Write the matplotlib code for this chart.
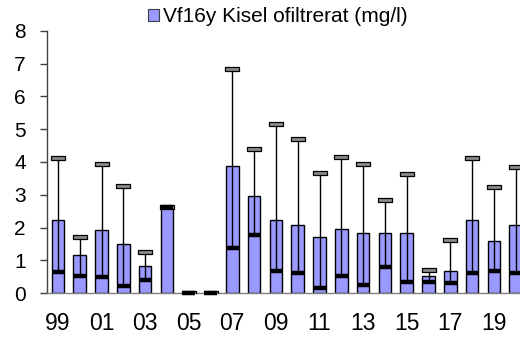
import matplotlib
matplotlib.use("Agg")
import matplotlib.pyplot as plt
from matplotlib.patches import Patch
from matplotlib.path import Path
import numpy as np

# Yearly silica (unfiltered) statistics, mg/l
years = ['99', '00', '01', '02', '03', '04', '05', '06', '07', '08', '09',
         '10', '11', '12', '13', '14', '15', '16', '17', '18', '19', '20']
mean = [2.24, 1.16, 1.94, 1.51, 0.83, 2.66, 0.0, 0.0, 3.87, 2.95, 2.24,
        2.08, 1.70, 1.97, 1.83, 1.83, 1.83, 0.54, 0.68, 2.24, 1.60, 2.08]
median = [0.64, 0.53, 0.50, 0.23, 0.39, 2.62, 0.0, 0.0, 1.38, 1.78, 0.69,
          0.62, 0.16, 0.53, 0.26, 0.80, 0.35, 0.33, 0.31, 0.62, 0.67, 0.62]
maximum = [4.12, 1.72, 3.95, 3.27, 1.26, 2.62, 0.0, 0.0, 6.83, 4.39, 5.15,
           4.69, 3.65, 4.14, 3.93, 2.83, 3.63, 0.71, 1.62, 4.13, 3.23, 3.84]
yticks = [0, 1, 2, 3, 4, 5, 6, 7, 8]
series_name = 'Vf16y Kisel ofiltrerat (mg/l)'

plt.rcParams['font.family'] = ['Liberation Sans', 'DejaVu Sans']

W, H = 520, 339
fig = plt.figure(figsize=(W / 100, H / 100), dpi=100)
ax = fig.add_axes([47 / W, 45.7 / H, 479.6 / W, 262.6 / H])

x = np.arange(len(years))
bw = 0.58

ax.bar(x, mean, width=bw, color='#9999FF', edgecolor='black', linewidth=1.0, zorder=2)

# whiskers from the median up to the maximum
ax.vlines(x, median, maximum, color='black', linewidth=1.0, zorder=3)

# caps at the maximum: flat grey rectangles
cap = Path([(-1, -0.3), (1, -0.3), (1, 0.3), (-1, 0.3), (-1, -0.3)],
           [Path.MOVETO, Path.LINETO, Path.LINETO, Path.LINETO, Path.CLOSEPOLY])
ax.plot(x, maximum, linestyle='none', marker=cap, markersize=9.6,
        markerfacecolor='#8c8c8c', markeredgecolor='black', markeredgewidth=0.9,
        zorder=4)

# medians: thick black bars across the column
ax.hlines(median, x - bw / 2, x + bw / 2, color='black', linewidth=3.2,
          capstyle='butt', zorder=5, clip_on=False)

ax.set_xlim(-0.5, len(years) - 0.5)
ax.set_ylim(0, 8)
ax.set_yticks(yticks)
ax.set_xticks(x[::2])
ax.set_xticklabels(years[::2])

for s in ('top', 'right'):
    ax.spines[s].set_visible(False)
ax.spines['left'].set_color('#404040')
ax.spines['bottom'].set_color('#808080')
ax.spines['left'].set_linewidth(1.0)
ax.spines['bottom'].set_linewidth(1.0)
ax.tick_params(axis='y', direction='out', length=5, width=1.0, color='#404040',
               pad=10.3, labelsize=15)
ax.tick_params(axis='x', length=0, pad=13.5, labelsize=16.5)
for lab in ax.get_xticklabels() + ax.get_yticklabels():
    lab.set_color('black')

handle = Patch(facecolor='#9999FF', edgecolor='#404040', linewidth=0.8)
fig.legend([handle], [series_name], loc='center left',
           bbox_to_anchor=(144 / W, 1 - 17 / H), frameon=False,
           fontsize=15, handlelength=0.5, handleheight=0.5,
           handletextpad=0.22, borderaxespad=0, borderpad=0.2)

fig.savefig('out.png', dpi=100)
